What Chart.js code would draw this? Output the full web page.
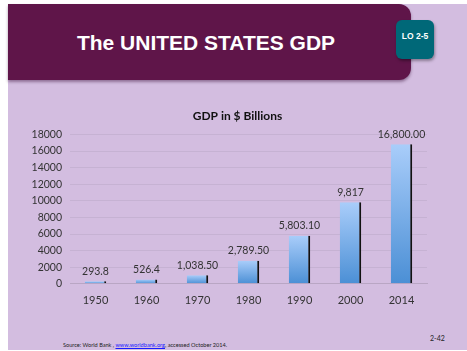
<!DOCTYPE html>
<html>
<head>
<meta charset="utf-8">
<script src="https://cdn.jsdelivr.net/npm/chart.js@4.4.0/dist/chart.umd.min.js"></script>
<style>
    body { margin: 0; background: #fff; width: 467px; height: 351px; overflow: hidden; }
    .slide { position: absolute; left: 8px; top: 4px; width: 459px; height: 346px; background: #d3bde0; }
    .header {
        position: absolute; left: 0; top: 0; width: 403px; height: 76px;
        background: #5f1549; border-radius: 0 12px 12px 0;
        box-shadow: 0 2px 3px rgba(60, 20, 60, 0.45);
    }
    .header h1 {
        margin: 0; position: absolute; left: 0; top: 27px; width: 396px; text-align: center;
        font: bold 21px "Liberation Sans", Arial, sans-serif; color: #fff;
    }
    .badge {
        position: absolute; left: 388px; top: 16px; width: 38px; height: 39px;
        background: #006878; border-radius: 6px;
        box-shadow: 1px 2px 3px rgba(0, 0, 0, 0.35);
        color: #fff; font: bold 8.5px "Liberation Sans", Arial, sans-serif;
        text-align: center; line-height: 32px;
    }
    #wrap { position: absolute; left: 0; top: 100px; width: 459px; height: 216px; }
    .source { position: absolute; left: 55px; top: 337px; font: 5.6px Lato, sans-serif; color: #222; }
    .source a { color: #1a1aff; }
    .page { position: absolute; left: 422px; top: 330px; font: 7px Lato, sans-serif; color: #222; }
</style>
</head>
<body>
<div class="slide">
    <div class="header"><h1>The UNITED STATES GDP</h1></div>
    <div class="badge">LO 2-5</div>
    <div id="wrap"><canvas id="myChart"></canvas></div>
    <div class="source">Source: World Bank , <a href="#">www.worldbank.org</a>, accessed October 2014.</div>
    <div class="page">2-42</div>
</div>

<script>
// Donnees du graphique
const years = ['1950', '1960', '1970', '1980', '1990', '2000', '2014'];
const gdp = [293.8, 526.4, 1038.5, 2789.5, 5803.1, 9817, 16800];
const gdpLabels = ['293.8', '526.4', '1,038.50', '2,789.50', '5,803.10', '9,817', '16,800.00'];
const yTicks = [0, 2000, 4000, 6000, 8000, 10000, 12000, 14000, 16000, 18000];

const FONT = 'Lato, "Open Sans", sans-serif';

// degrade bleu de chaque barre (clair en haut, fonce en bas)
function barGradient(context) {
    const chart = context.chart;
    const { ctx, chartArea, scales } = chart;
    if (!chartArea || context.dataIndex === undefined) return '#7fb0ea';
    const top = scales.y.getPixelForValue(gdp[context.dataIndex]);
    const bottom = scales.y.getPixelForValue(0);
    const g = ctx.createLinearGradient(0, top, 0, bottom);
    g.addColorStop(0, '#a9cdfa');
    g.addColorStop(1, '#4b8fd5');
    return g;
}

// etiquettes de valeur au-dessus des barres
const valueLabels = {
    id: 'valueLabels',
    afterDatasetsDraw(chart) {
        const ctx = chart.ctx;
        const meta = chart.getDatasetMeta(0);
        ctx.save();
        ctx.font = '10.5px ' + FONT;
        ctx.fillStyle = '#333';
        ctx.textAlign = 'center';
        ctx.textBaseline = 'middle';
        meta.data.forEach((bar, i) => {
            ctx.fillText(gdpLabels[i], bar.x, bar.y - 10);
        });
        ctx.restore();
    }
};

// titre centre sur toute la largeur (pas seulement jusqu'au padding droit)
const centerTitle = {
    id: 'centerTitle',
    afterLayout(chart) {
        if (chart.titleBlock) {
            chart.titleBlock.left = 0;
            chart.titleBlock.right = chart.width;
        }
    }
};

const ctx = document.getElementById('myChart').getContext('2d');
const chart = new Chart(ctx, {
    type: 'bar',
    data: {
        labels: years,
        datasets: [{
            label: 'GDP',
            data: gdp,
            backgroundColor: barGradient,
            borderColor: '#111',
            borderWidth: { top: 0, left: 0, bottom: 0, right: 2 },
            borderSkipped: false,
            categoryPercentage: 1,
            barPercentage: 0.42
        }]
    },
    options: {
        responsive: true,
        maintainAspectRatio: false,
        animation: false,
        layout: { padding: { left: 0, right: 40, top: 0, bottom: 3 } },
        plugins: {
            legend: { display: false },
            tooltip: { enabled: false },
            title: {
                display: true,
                text: 'GDP in $ Billions',
                color: '#111',
                font: { family: FONT, size: 12, weight: 'bold' },
                padding: { top: 5, bottom: 11 }
            }
        },
        scales: {
            x: {
                grid: { display: false, drawTicks: false },
                border: { display: true, color: '#b9a6c4' },
                ticks: { color: '#333', font: { family: FONT, size: 11 }, padding: 10 }
            },
            y: {
                min: 0,
                max: 18000,
                afterFit(scale) { scale.width = 62; },
                afterBuildTicks(scale) { scale.ticks = yTicks.map(v => ({ value: v })); },
                grid: { color: '#c6b2d3', drawTicks: false },
                border: { display: false },
                ticks: {
                    color: '#333',
                    font: { family: FONT, size: 10.5 },
                    padding: 8,
                    autoSkip: false,
                    callback: (value) => String(value)
                }
            }
        }
    },
    plugins: [valueLabels, centerTitle]
});
</script>
</body>
</html>
